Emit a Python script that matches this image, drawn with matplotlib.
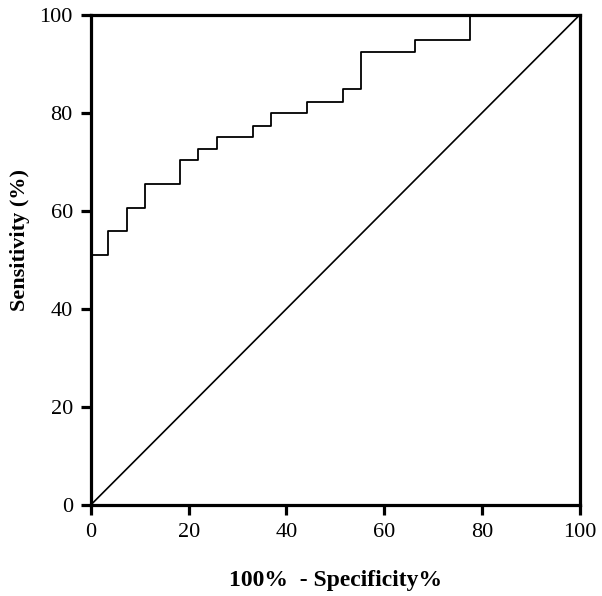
import matplotlib.pyplot as plt

plt.rcParams['font.family'] = ['Liberation Serif', 'DejaVu Serif']

# ROC step points (100% - specificity, sensitivity)
fpr = [0, 3.5, 7.3, 11.0, 18.3, 22.0, 25.7, 33.1, 36.8, 44.2, 51.6, 55.3, 66.3, 77.5, 100]
tpr = [51.0, 55.8, 60.5, 65.4, 70.3, 72.6, 75.1, 77.4, 79.9, 82.2, 84.8, 92.5, 94.9, 100, 100]
ticks = [0, 20, 40, 60, 80, 100]

fig = plt.figure(figsize=(6.02, 5.96), dpi=100)
ax = fig.add_axes([0.151, 0.153, 0.812, 0.822])

ax.step(fpr, tpr, where='post', color='black', lw=1.3)
ax.plot([0, 100], [0, 100], color='black', lw=1.2)

ax.set_xlim(0, 100)
ax.set_ylim(0, 100)
ax.set_xticks(ticks)
ax.set_yticks(ticks)
for s in ax.spines.values():
    s.set_linewidth(2.3)
ax.tick_params(direction='out', length=7, width=2.3, labelsize=16, pad=6)

ax.set_xlabel('100%  - Specificity%', fontsize=17, fontweight='bold', labelpad=20)
ax.set_ylabel('Sensitivity (%)', fontsize=16, fontweight='bold')
ax.yaxis.set_label_coords(-0.125, 0.54)

fig.savefig('out.png', dpi=100)
